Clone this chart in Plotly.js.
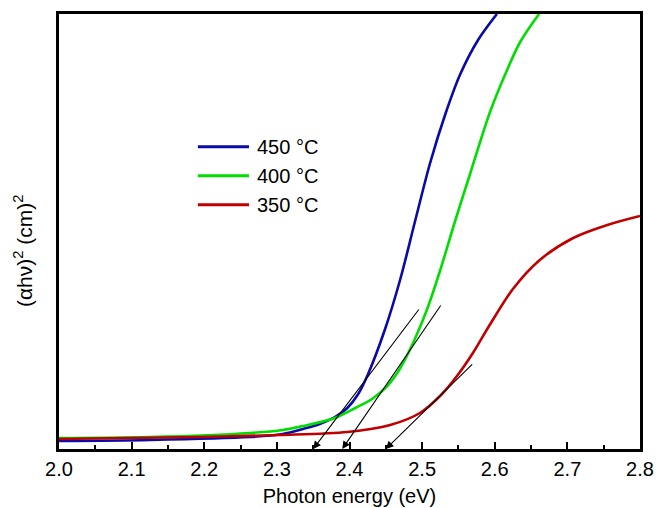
<!DOCTYPE html>
<html>
<head>
<meta charset="utf-8">
<script src="https://cdn.plot.ly/plotly-3.0.1.min.js"></script>
<style>html,body{margin:0;padding:0;background:#fff;}#chart{width:658px;height:508px;}</style>
</head>
<body>
<div id="chart"></div>
<script>
// Photon energy (eV) and (alpha h nu)^2 in arbitrary units
const blueX = [2.000, 2.125, 2.263, 2.308, 2.336, 2.359, 2.380, 2.397, 2.412, 2.425, 2.449, 2.470, 2.490, 2.511, 2.532, 2.552, 2.577, 2.603];
const blueY = [8, 9, 12, 15, 20, 25, 32, 41, 55, 74, 120, 170, 227, 286, 335, 374, 409, 435];
const greenX = [2.000, 2.125, 2.263, 2.308, 2.336, 2.380, 2.408, 2.431, 2.452, 2.470, 2.490, 2.507, 2.525, 2.545, 2.566, 2.593, 2.614, 2.635, 2.661];
const greenY = [11, 12, 16, 19, 23, 31, 41, 50, 63, 81, 110, 140, 179, 227, 275, 336, 374, 407, 435];
const redX = [2.000, 2.194, 2.304, 2.397, 2.456, 2.497, 2.526, 2.549, 2.569, 2.593, 2.625, 2.662, 2.708, 2.755, 2.800];
const redY = [10, 12, 14, 17, 24, 36, 54, 74, 95, 124, 160, 189, 211, 224, 233];
const seriesNames = ['450 °C', '400 °C', '350 °C'];
// Tangent-line extrapolations: start point and intercept on the energy axis
const tanStartX = [2.497, 2.527, 2.571];
const tanStartY = [141, 145, 86];
const tanEndX = [2.35, 2.39, 2.45];
const tanEndY = [0, 0, 0];
const xTickVals = [2.0, 2.1, 2.2, 2.3, 2.4, 2.5, 2.6, 2.7, 2.8];
const xTickText = ['2.0', '2.1', '2.2', '2.3', '2.4', '2.5', '2.6', '2.7', '2.8'];
const xTitle = 'Photon energy (eV)';
const yTitle = '(αhν)<sup>2</sup> (cm)<sup>2</sup>';

const colors = ['#0a0aa8', '#00dd00', '#c00000'];
const xs = [blueX, greenX, redX];
const ys = [blueY, greenY, redY];
const traces = xs.map((x, i) => ({
  x: x, y: ys[i], type: 'scatter', mode: 'lines', name: seriesNames[i],
  showlegend: false,
  line: {color: colors[i], width: 2.6, shape: 'spline', smoothing: 0.9}
}));

const font = {family: '"Liberation Sans", Arial, sans-serif', color: '#000'};

const annotations = tanStartX.map((sx, i) => ({
  x: tanEndX[i], y: tanEndY[i], ax: tanStartX[i], ay: tanStartY[i],
  xref: 'x', yref: 'y', axref: 'x', ayref: 'y',
  text: '', showarrow: true, arrowhead: 2, arrowsize: 1.4, arrowwidth: 1.1,
  arrowcolor: '#000'
}));

// legend drawn as swatch lines + labels
const legY = [0.695, 0.628, 0.5615];
const shapes = [];
seriesNames.forEach((n, i) => {
  shapes.push({type: 'line', xref: 'paper', yref: 'paper', x0: 0.239, x1: 0.327,
    y0: legY[i], y1: legY[i], line: {color: colors[i], width: 3}});
  annotations.push({xref: 'paper', yref: 'paper', x: 0.337, y: legY[i],
    xanchor: 'left', yanchor: 'middle', text: n, showarrow: false,
    font: Object.assign({size: 20}, font)});
});
annotations.push({xref: 'paper', yref: 'paper', x: -0.062, y: 0.455,
  xanchor: 'center', yanchor: 'middle', textangle: -90, text: yTitle,
  showarrow: false, font: Object.assign({size: 21}, font)});

const layout = {
  width: 658, height: 508,
  margin: {l: 59, r: 18, t: 14, b: 59},
  paper_bgcolor: '#fff', plot_bgcolor: '#fff',
  font: Object.assign({size: 20}, font),
  showlegend: false,
  xaxis: {
    range: [2.0, 2.8], tickvals: xTickVals, ticktext: xTickText,
    ticks: 'inside', ticklen: 7, tickwidth: 2, tickcolor: '#000',
    minor: {dtick: 0.05, ticks: 'inside', ticklen: 4, tickwidth: 2, tickcolor: '#000', showgrid: false},
    showline: true, linewidth: 3, linecolor: '#000', mirror: true,
    showgrid: false, zeroline: false,
    tickfont: Object.assign({size: 20}, font),
    title: {text: xTitle, font: Object.assign({size: 20}, font), standoff: 10}
  },
  yaxis: {
    range: [0, 435], showticklabels: false, ticks: '',
    showline: true, linewidth: 3, linecolor: '#000', mirror: true,
    showgrid: false, zeroline: false
  },
  shapes: shapes,
  annotations: annotations
};
Plotly.newPlot('chart', traces, layout, {displayModeBar: false, staticPlot: true});
</script>
</body>
</html>
